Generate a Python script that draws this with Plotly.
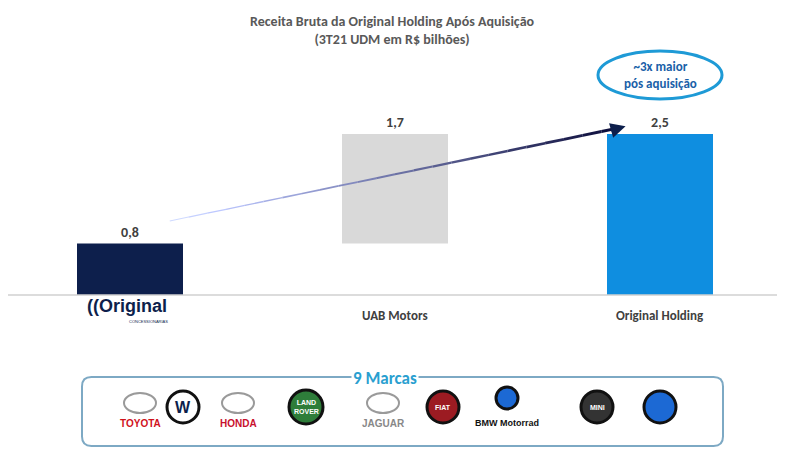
import plotly.graph_objects as go

categories = ["Original", "UAB Motors", "Original Holding"]
bases = [0, 0.8, 0]
values = [0.8, 1.7, 2.5]
labels = ["0,8", "1,7", "2,5"]
colors = ["#0d1f4c", "#d9d9d9", "#0f8ee0"]
brands = ["TOYOTA", "VW", "HONDA", "LAND ROVER", "JAGUAR", "FIAT", "BMW Motorrad", "MINI", "BMW"]
brand_x = [140, 183, 238, 306, 383, 443, 507, 597, 660]
brand_colors = ["#d0121b", "#0d1f4c", "#c8102e", "#1e6b33", "#888888", "#a0151e", "#111111", "#444444", "#1c69d4"]

W, H = 785, 462
OFF = 8  # page offset seen in the screenshot


def px(x):
    return (x - OFF) / W


def py(y):
    return 1 - (y - OFF) / H


def label(x, y, text, size, color, family=None, xref="paper", **kw):
    fig.add_annotation(xref=xref, yref="paper", x=x, y=py(y), xanchor="center", yanchor="middle",
                       showarrow=False, text=text,
                       font=dict(size=size, color=color, family=family or "Calibri, Open Sans, Arial"), **kw)


fig = go.Figure()
xs = list(range(len(categories)))
fig.add_trace(go.Bar(x=xs, y=values, base=bases, width=0.4, marker_color=colors,
                     marker_line_width=0, text=[f"<b>{t}</b>" for t in labels], textposition="outside",
                     textfont=dict(size=14, color="#404040", family="Calibri, Open Sans, Arial"),
                     cliponaxis=False, showlegend=False))

# gradient arrow from first bar to last
n = 24
x0, y0, x1, y1 = 0.15, 1.15, 1.85, 2.6
for i in range(n):
    t0, t1 = i / n, (i + 1) / n
    c = int(240 - 225 * t1)
    fig.add_trace(go.Scatter(x=[x0 + (x1 - x0) * t0, x0 + (x1 - x0) * t1],
                             y=[y0 + (y1 - y0) * t0, y0 + (y1 - y0) * t1],
                             mode="lines",
                             line=dict(color=f"rgb({int(c*0.9)},{int(c*0.95)},{min(255, c+45)})", width=1 + 2 * t1),
                             hoverinfo="skip", showlegend=False))
fig.add_annotation(x=x1 + 0.02, y=y1 + 0.02, ax=x1 - 0.04, ay=y1 - 0.05, xref="x", yref="y", axref="x", ayref="y",
                   text="", showarrow=True, arrowhead=2, arrowsize=1, arrowwidth=3, arrowcolor="#0d1f4c")

# x: category 0 at 130px, 2 at 660px
fig.update_layout(
    width=W, height=H, margin=dict(l=0, r=0, t=0, b=0),
    plot_bgcolor="white", paper_bgcolor="white",
    xaxis=dict(range=[-(130 - OFF) / 265, (W + OFF - 130) / 265], showticklabels=False,
               showgrid=False, zeroline=False),
    yaxis=dict(range=[0, 3.34], domain=[py(295), py(80)], showticklabels=False,
               showgrid=False, zeroline=False),
    font=dict(family="Calibri, Open Sans, Arial", color="#404040"),
)

fig.add_shape(type="line", xref="paper", yref="paper", x0=0, x1=1, y0=py(295), y1=py(295),
              line=dict(color="#d0d0d0", width=1.5))

label(px(392), 30, "<b>Receita Bruta da Original Holding Após Aquisição<br>(3T21 UDM em R$ bilhões)</b>",
      14, "#595959")
label(1, 315, "<b>UAB Motors</b>", 13, "#404040", xref="x")
label(2, 315, "<b>Original Holding</b>", 13, "#404040", xref="x")
label(px(127), 306, "<b>((Original</b>", 18, "#0d1f4c", "Arial")
label(px(148), 321, "CONCESSIONÁRIAS", 4, "#0d1f4c", "Arial")

# ellipse callout
fig.add_shape(type="circle", xref="paper", yref="paper", x0=px(598), x1=px(722), y0=py(99), y1=py(51),
              line=dict(color="#1e9ad6", width=3))
label(px(660), 75, "<b>~3x maior<br>pós aquisição</b>", 13, "#1a5fa8")

# brands box (rounded)
bx0, bx1, by0, by1, r = px(82), px(723), py(446), py(377), 0.012
fig.add_shape(type="path", xref="paper", yref="paper",
              path=(f"M {bx0+r},{by1} L {bx1-r},{by1} Q {bx1},{by1} {bx1},{by1-r*1.7} "
                    f"L {bx1},{by0+r*1.7} Q {bx1},{by0} {bx1-r},{by0} L {bx0+r},{by0} "
                    f"Q {bx0},{by0} {bx0},{by0+r*1.7} L {bx0},{by1-r*1.7} Q {bx0},{by1} {bx0+r},{by1} Z"),
              line=dict(color="#7da9c4", width=2), fillcolor="white")
label(px(385), 378, "<b>9 Marcas</b>", 17, "#2a9fd0", bgcolor="white")

fills = {"VW": "white", "LAND ROVER": "#2e7d3a", "FIAT": "#9c1b22", "MINI": "#333333",
         "BMW": "#1c69d4", "BMW Motorrad": "#1c69d4"}
inside = {"VW": "W", "LAND ROVER": "LAND<br>ROVER", "FIAT": "FIAT", "MINI": "MINI"}
for b, x, c in zip(brands, brand_x, brand_colors):
    if b in fills:
        rr = 11 if b == "BMW Motorrad" else (17 if b == "LAND ROVER" else 16)
        cy = 398 if b == "BMW Motorrad" else 407
        fig.add_shape(type="circle", xref="paper", yref="paper", x0=px(x - rr), x1=px(x + rr),
                      y0=py(cy + rr), y1=py(cy - rr), line=dict(color="#111111", width=3), fillcolor=fills[b])
        if b in inside:
            label(px(x), cy, f"<b>{inside[b]}</b>", 16 if b == "VW" else 7,
                  "#0d1f4c" if b == "VW" else "white", "Arial")
    else:
        # emblem outline above the name
        fig.add_shape(type="circle", xref="paper", yref="paper", x0=px(x - 16), x1=px(x + 16),
                      y0=py(413), y1=py(393), line=dict(color="#9a9a9a", width=2))
    if b in ("TOYOTA", "HONDA", "JAGUAR", "BMW Motorrad"):
        label(px(x), 423, f"<b>{b}</b>", 10 if b != "BMW Motorrad" else 9, c, "Arial")

fig.write_html("out.html")
